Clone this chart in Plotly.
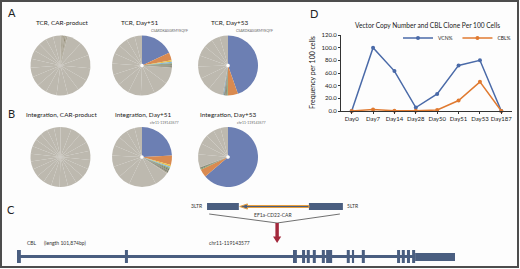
import plotly.graph_objects as go

W, H = 520, 269
FONT = "Lato"

# ---------------- DATA ----------------
# Panel A/B pies: clone frequencies (%), first slice = dominant clone
tcr_product_values = [0.4, 0.3, 0.5, 0.3, 0.4, 0.3, 0.6, 0.5, 0.4, 8.0, 7.5, 7.0, 6.8, 6.5, 6.2, 6.0,
                      5.8, 5.5, 5.2, 5.0, 4.8, 4.6, 4.4, 4.2, 4.0, 4.0]
tcr_d51_values = [18.0, 4.3, 0.8, 0.7, 0.6, 0.5, 0.5, 0.4, 0.4, 9.0, 8.0, 7.5, 7.0, 6.5, 6.0, 6.0,
                  5.5, 5.0, 5.0, 4.5, 4.0]
tcr_d53_values = [44.5, 5.5, 0.6, 0.5, 0.5, 0.4, 0.4, 0.3, 8.0, 7.0, 6.5, 6.0, 5.5, 5.0, 4.5, 4.5]
int_product_values = [6.0, 5.5, 5.5, 5.0, 5.0, 5.0, 5.0, 4.8, 4.8, 4.6, 4.6, 4.5, 4.5, 4.4, 4.4,
                      4.2, 4.2, 4.0, 4.0, 4.0, 3.8, 3.6]
int_d51_values = [24.0, 5.0, 0.9, 0.8, 0.7, 0.6, 0.6, 0.5, 0.5, 0.4, 8.0, 7.5, 7.0, 6.5, 6.0, 6.0,
                  5.5, 5.0, 5.0, 4.5, 4.0]
int_d53_values = [63.7, 4.3, 0.6, 0.5, 0.4, 7.0, 6.0, 5.0, 4.5, 4.0, 4.0]

pie_titles = ["TCR, CAR-product", "TCR, Day+51", "TCR, Day+53",
              "Integration, CAR-product", "Integration, Day+51", "Integration, Day+53"]
top_clone_labels = ["", "CSARDKASGRMYEQYF", "CSARDKASGRMYEQYF",
                    "", "chr11-119143577", "chr11-119143577"]

# Panel D
days = ["Day0", "Day7", "Day14", "Day28", "Day50", "Day51", "Day53", "Day187"]
vcn_pct = [0.0, 100.0, 63.0, 5.5, 27.0, 72.0, 80.0, 0.0]
cbl_pct = [0.0, 2.5, 0.3, 0.3, 1.5, 16.5, 46.0, 0.0]
y_ticks = [0, 20, 40, 60, 80, 100, 120]

# Panel C: gene diagram (kb along CBL, drawn positions)
gene_length_kb = 101.874
exon_start_kb = [0.0, 25.1, 64.2, 66.3, 67.4, 68.8, 70.9, 71.9, 76.7, 77.9, 80.2, 88.4, 89.5, 90.7, 91.9]
exon_end_kb = [0.9, 25.8, 65.1, 67.0, 68.1, 69.5, 71.6, 73.3, 77.4, 78.4, 80.9, 89.1, 90.2, 91.4, 92.6]
utr_start_kb, utr_end_kb = 92.6, 101.874
insertion_kb = 60.5
vector_names = ["3LTR", "EF1a-CD22-CAR", "5LTR"]
vector_start_kb = [44.2, 51.6, 67.9]
vector_end_kb = [51.6, 67.9, 75.8]

# ---------------- STYLE ----------------
B, O, G = "#6c7fb3", "#d98a50", "#bdb9af"
Y, LB, GR = "#e6c24a", "#86b4d8", "#86a06a"
D1, D2, L1 = "#8f8872", "#6f7767", "#a9a392"
pie_colors = [
    [D1, L1, D1, L1, D1, L1, D1, L1, D1] + [G] * 17,
    [B, O, Y, LB, GR, D2, D1, D2, D1] + [G] * 12,
    [B, O, GR, D2, D1, D2, LB, D1] + [G] * 8,
    [G] * 22,
    [B, O, Y, LB, GR, D2, D1, D2, D1, L1] + [G] * 11,
    [B, O, GR, D2, D1] + [G] * 6,
]
pie_values = [tcr_product_values, tcr_d51_values, tcr_d53_values,
              int_product_values, int_d51_values, int_d53_values]
pie_holes = [0, 0.06, 0.06, 0, 0.06, 0.06]
col_cx = [60.5, 142, 228]
row_cy = [65.5, 157]
R = 30
title_cx = [61.5, 140, 230, 61.5, 143, 228]
title_y = [23, 23, 23, 115, 115, 115]
lab_x = [0, 169, 254, 0, 164, 251]
lab_y = [31, 31, 31, 123, 123, 123]

VCN_C, CBL_C = "#4a6aa8", "#e07a30"
GENE_C = "#4a5e80"
RED_C = "#a3283c"


def px(x):
    return x / W


def py(y):
    return 1 - y / H


def note(text, x, y, size, color="#222", xref="paper", yref="paper", xanchor="center", **kw):
    return dict(text=text, x=x, y=y, xref=xref, yref=yref, xanchor=xanchor, yanchor="middle",
                showarrow=False, font=dict(size=size, color=color, family=FONT), **kw)


fig = go.Figure()
annotations = []
shapes = []

for i, vals in enumerate(pie_values):
    cx = col_cx[i % 3]
    cy = row_cy[i // 3]
    fig.add_trace(go.Pie(
        values=vals, sort=False, direction="clockwise", rotation=0,
        textinfo="none", hoverinfo="skip", showlegend=False, hole=pie_holes[i],
        marker=dict(colors=pie_colors[i], line=dict(color="#b9b5ab", width=0)),
        domain=dict(x=[px(cx - R), px(cx + R)], y=[py(cy + R), py(cy - R)]),
    ))
    annotations.append(note(pie_titles[i], px(title_cx[i]), py(title_y[i]), 6.4, color="#1a1a1a"))
    if top_clone_labels[i]:
        annotations.append(note(top_clone_labels[i], px(lab_x[i]), py(lab_y[i]), 3.5, color="#666"))

for letter, lx, ly in [("A", 12, 12), ("B", 11, 113), ("C", 11, 209), ("D", 314, 13)]:
    annotations.append(note(letter, px(lx), py(ly), 11))

# Panel D
fig.add_trace(go.Scatter(x=days, y=vcn_pct, mode="lines+markers", name="VCN%",
                         line=dict(color=VCN_C, width=1.5), marker=dict(size=4, color=VCN_C),
                         xaxis="x", yaxis="y", hoverinfo="skip", cliponaxis=False))
fig.add_trace(go.Scatter(x=days, y=cbl_pct, mode="lines+markers", name="CBL%",
                         line=dict(color=CBL_C, width=1.5), marker=dict(size=4, color=CBL_C),
                         xaxis="x", yaxis="y", hoverinfo="skip", cliponaxis=False))
annotations.append(note("Vector Copy Number and CBL Clone Per 100 Cells", px(427), py(25), 6.6))
annotations.append(note("Frequency per 100 cells", px(312), py(73), 7, textangle=-90))

# Panel C
y_gene, y_exon0, y_exon1, y_utr0, y_utr1 = 8.5, 2, 15, 4, 12
y_vec0, y_vec1 = 55, 62
for s, e in zip(exon_start_kb, exon_end_kb):
    shapes.append(dict(type="rect", xref="x2", yref="y2", x0=s, x1=e, y0=y_exon0, y1=y_exon1,
                       fillcolor=GENE_C, line=dict(width=0)))
shapes.append(dict(type="rect", xref="x2", yref="y2", x0=utr_start_kb, x1=utr_end_kb, y0=y_utr0,
                   y1=y_utr1, fillcolor=GENE_C, line=dict(width=0)))
shapes.append(dict(type="line", xref="x2", yref="y2", x0=exon_start_kb[0], x1=utr_start_kb,
                   y0=y_gene, y1=y_gene, line=dict(color=GENE_C, width=3)))
for k in (0, 2):
    shapes.append(dict(type="rect", xref="x2", yref="y2", x0=vector_start_kb[k], x1=vector_end_kb[k],
                       y0=y_vec0, y1=y_vec1, fillcolor=GENE_C, line=dict(width=0)))
a0, a1 = vector_start_kb[1], vector_end_kb[1]
ym = (y_vec0 + y_vec1) / 2
hd = 2.0
path = (f"M {a1},{ym - 1} L {a0 + hd},{ym - 1} L {a0 + hd},{ym - 2.6} L {a0 + 0.2},{ym} "
        f"L {a0 + hd},{ym + 2.6} L {a0 + hd},{ym + 1} L {a1},{ym + 1} Z")
shapes.append(dict(type="path", xref="x2", yref="y2", path=path, fillcolor=GENE_C,
                   line=dict(color="#e8a040", width=1)))
for xs in (vector_start_kb[0] + 0.5, vector_end_kb[2] - 0.7):
    shapes.append(dict(type="line", xref="x2", yref="y2", x0=xs, x1=insertion_kb, y0=51, y1=42,
                       line=dict(color="#333", width=0.7)))
sw, hw = 0.4, 0.95
rpath = (f"M {insertion_kb - sw},42 L {insertion_kb - sw},28.5 L {insertion_kb - hw},28.5 "
         f"L {insertion_kb},22 L {insertion_kb + hw},28.5 L {insertion_kb + sw},28.5 "
         f"L {insertion_kb + sw},42 Z")
shapes.append(dict(type="path", xref="x2", yref="y2", path=rpath, fillcolor=RED_C, line=dict(width=0)))

for txt, x, y, anc in [("3LTR", vector_start_kb[0] - 0.5, 59, "right"),
                       ("5LTR", vector_end_kb[2] + 0.6, 59, "left"),
                       ("EF1a-CD22-CAR", 59.6, 50, "center"),
                       ("CBL", 1.8, 22, "left"),
                       ("(length 101,874bp)", 5.8, 22, "left"),
                       ("chr11-119143577", 44.2, 22.5, "left")]:
    annotations.append(note(txt, x, y, 5, color="#333", xref="x2", yref="y2", xanchor=anc))

# border
shapes.append(dict(type="rect", xref="paper", yref="paper", x0=px(1), x1=px(W - 2), y0=py(H - 2),
                   y1=py(1), line=dict(color="#4d4d4d", width=2), fillcolor="rgba(0,0,0,0)"))

fig.update_layout(
    width=W, height=H, autosize=False,
    margin=dict(l=0, r=0, t=0, b=0, pad=0, autoexpand=False),
    paper_bgcolor="#fdfdfd", plot_bgcolor="rgba(0,0,0,0)",
    font=dict(family=FONT, color="#222"),
    showlegend=True,
    legend=dict(orientation="h", x=px(516), xanchor="right", y=py(38), yanchor="middle",
                font=dict(size=5, family=FONT), bgcolor="rgba(0,0,0,0)", itemwidth=30,
                tracegroupgap=0),
    xaxis=dict(domain=[px(341), px(512)], type="category", categoryorder="array",
               categoryarray=days, range=[-0.5, 7.5], showline=True, linecolor="#333",
               linewidth=1, ticks="outside", ticklen=2, tickcolor="#333", tickangle=0,
               automargin=False,
               tickfont=dict(size=6, family=FONT), showgrid=False, zeroline=False),
    yaxis=dict(domain=[py(111), py(35)], range=[0, 120], tickvals=y_ticks, tickformat=".1f",
               showline=True, linecolor="#333", linewidth=1, ticks="outside", ticklen=2,
               tickcolor="#333", tickfont=dict(size=6, family=FONT), showgrid=False,
               zeroline=False, automargin=False),
    xaxis2=dict(domain=[px(17), px(455)], range=[0, gene_length_kb], visible=False, automargin=False),
    yaxis2=dict(domain=[py(265), py(200)], range=[0, 65], visible=False, automargin=False),
    annotations=annotations,
    shapes=shapes,
)

fig.write_html("out.html", config={"displayModeBar": False},
               post_script="document.body.style.margin='0';document.body.style.padding='0';")
